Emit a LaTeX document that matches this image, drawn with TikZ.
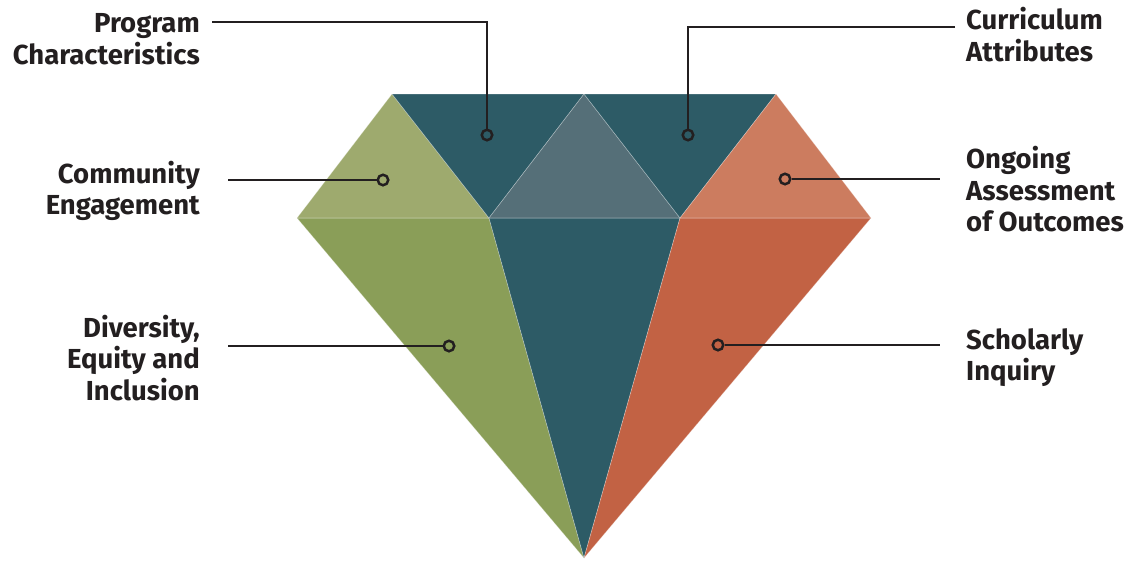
\documentclass[tikz,border=0pt]{standalone}
\usepackage{fontspec}
\setmainfont{Fira Sans}
\definecolor{teal}{HTML}{2D5B66}
\definecolor{tealL}{HTML}{556F78}
\definecolor{grnL}{HTML}{9EAA6E}
\definecolor{grn}{HTML}{8A9E58}
\definecolor{orgL}{HTML}{CC7C5F}
\definecolor{org}{HTML}{C26244}
\definecolor{ink}{HTML}{231F20}
\begin{document}
\begin{tikzpicture}[x=1pt,y=-1pt,
  facet/.style={draw=white,draw opacity=0.35,line width=0.6pt},
  lbl/.style={inner sep=0pt,font=\fontsize{27.5}{31.6}\selectfont\bfseries,text=ink},
  lblL/.style={lbl,anchor=base east,align=right},
  lblR/.style={lbl,anchor=base west,align=left},
  dot/.style={circle,draw=ink,line width=2.5pt,minimum size=10.5pt,inner sep=0pt},
  conn/.style={draw=ink,line width=2.2pt}]
\useasboundingbox (0,0) rectangle (1129,560);
% facets
\coordinate (A) at (392,94);
\coordinate (B) at (584,94);
\coordinate (C) at (776,94);
\coordinate (D) at (297,218);
\coordinate (E) at (489,218);
\coordinate (F) at (680,218);
\coordinate (G) at (871,218);
\coordinate (H) at (584,558);
\fill[grn,facet] (D) -- (E) -- (H) -- cycle;
\fill[teal,facet] (E) -- (F) -- (H) -- cycle;
\fill[org,facet] (F) -- (G) -- (H) -- cycle;
\fill[grnL,facet] (A) -- (D) -- (E) -- cycle;
\fill[teal,facet] (A) -- (B) -- (E) -- cycle;
\fill[tealL,facet] (B) -- (E) -- (F) -- cycle;
\fill[teal,facet] (B) -- (C) -- (F) -- cycle;
\fill[orgL,facet] (C) -- (G) -- (F) -- cycle;
% labels (base = baseline of last line)
\node[lblL] (t1) at (200,64.3) {Program\\Characteristics};
\node[lblL] (t2) at (200,214.8) {Community\\Engagement};
\node[lblL] (t3) at (200,400.3) {Diversity,\\Equity and\\Inclusion};
\node[lblR] (t4) at (966,61.5) {Curriculum\\Attributes};
\node[lblR] (t5) at (966,231.8) {Ongoing\\Assessment\\of Outcomes};
\node[lblR] (t6) at (966,380.8) {Scholarly\\Inquiry};
% dots
\node[dot] (d1) at (487,135) {};
\node[dot] (d2) at (383,180) {};
\node[dot] (d3) at (449,346) {};
\node[dot] (d4) at (688,135) {};
\node[dot] (d5) at (785,179) {};
\node[dot] (d6) at (718,345) {};
% connector ends
\coordinate (e1) at (212,22);
\coordinate (e2) at (228,180);
\coordinate (e3) at (228,346);
\coordinate (e4) at (955,27);
\coordinate (e5) at (940,179);
\coordinate (e6) at (940,345);
\draw[conn] (e1) -| (d1.north);
\draw[conn] (e2) -- (d2.west);
\draw[conn] (e3) -- (d3.west);
\draw[conn] (e4) -| (d4.north);
\draw[conn] (d5.east) -- (e5);
\draw[conn] (d6.east) -- (e6);
\end{tikzpicture}
\end{document}
